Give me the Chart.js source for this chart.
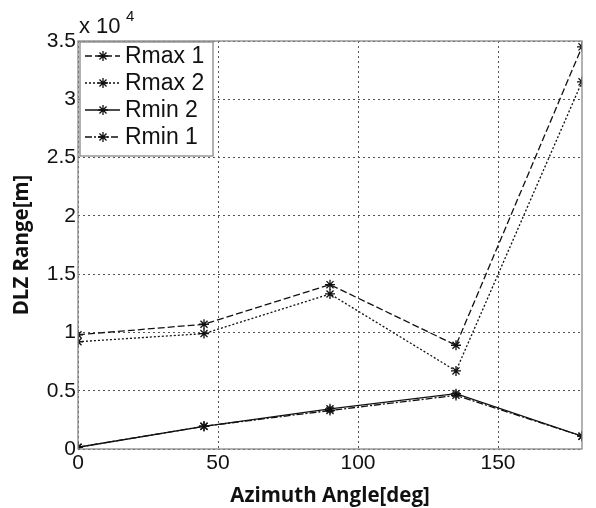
<!DOCTYPE html>
<html><head><meta charset="utf-8">
<script src="https://cdn.jsdelivr.net/npm/chart.js@4/dist/chart.umd.min.js"></script>
<style>html,body{margin:0;padding:0;background:#fff}#w{width:596px;height:508px}</style>
</head><body><div id="w"><canvas id="c" width="596" height="508"></canvas></div>
<script>
const angles = [0, 45, 90, 135, 180];
const rmax1 = [9800, 10700, 14100, 8900, 34500];
const rmax2 = [9200, 9900, 13300, 6700, 31500];
const rmin2 = [150, 1950, 3450, 4750, 1100];
const rmin1 = [150, 1950, 3300, 4600, 1100];
const seriesNames = ['Rmax 1', 'Rmax 2', 'Rmin 2', 'Rmin 1'];
const yTicks = [0, 5000, 10000, 15000, 20000, 25000, 30000, 35000];
const xTicks = [0, 50, 100, 150];

const dashes = [[7,3],[2,2],[],[7,2,2,2]];
const sets = [rmax1, rmax2, rmin2, rmin1].map((v,i)=>({
  label: seriesNames[i],
  data: angles.map((a,j)=>({x:a,y:v[j]})),
  borderColor:'#111', backgroundColor:'#111', borderWidth:1.3,
  borderDash:dashes[i], pointStyle:'star', pointRadius:5, pointBorderWidth:1.3,
  pointBorderColor:'#111', tension:0, fill:false
}));

const tickFont = {family:'"Liberation Sans", Arial, sans-serif', size:21};
const frame = {
  id:'frame',
  afterDraw(ch){
    const {ctx, chartArea:a} = ch;
    ctx.save();
    ctx.strokeStyle='#888'; ctx.lineWidth=1.3; ctx.setLineDash([]);
    ctx.strokeRect(a.left, a.top, a.right-a.left, a.bottom-a.top);
    // exponent
    ctx.fillStyle='#111'; ctx.font='22px "Liberation Sans", Arial, sans-serif';
    ctx.textBaseline='alphabetic'; ctx.textAlign='left';
    ctx.fillText('x 10', a.left+1, a.top-8);
    ctx.font='15px "Liberation Sans", Arial, sans-serif';
    ctx.fillText('4', a.left+48, a.top-20);
    // legend
    const lx=a.left+2, ly=a.top+1, lw=133, lh=114;
    ctx.fillStyle='#fff'; ctx.fillRect(lx,ly,lw,lh);
    ctx.strokeStyle='#888'; ctx.strokeRect(lx,ly,lw,lh);
    ch.data.datasets.forEach((d,i)=>{
      const y = ly+14+i*27;
      ctx.strokeStyle='#111'; ctx.lineWidth=1.3; ctx.setLineDash(d.borderDash);
      ctx.beginPath(); ctx.moveTo(lx+5,y); ctx.lineTo(lx+40,y); ctx.stroke();
      ctx.setLineDash([]);
      const cx=lx+23, r=5;
      ctx.beginPath();
      for(let k=0;k<4;k++){const ang=k*Math.PI/4; ctx.moveTo(cx+r*Math.cos(ang),y+r*Math.sin(ang)); ctx.lineTo(cx-r*Math.cos(ang),y-r*Math.sin(ang));}
      ctx.stroke();
      ctx.fillStyle='#111'; ctx.font='23px "Liberation Sans", Arial, sans-serif';
      ctx.textBaseline='middle'; ctx.textAlign='left';
      ctx.fillText(d.label, lx+45, y+1);
    });
    ctx.restore();
  }
};

new Chart(document.getElementById('c'), {
  type:'line',
  data:{datasets:sets},
  options:{
    responsive:false, animation:false, devicePixelRatio:1,
    layout:{padding:{top:41,right:14,left:0,bottom:0}},
    plugins:{legend:{display:false}, tooltip:{enabled:false}},
    scales:{
      x:{type:'linear', min:0, max:180,
        afterBuildTicks(s){ s.ticks = xTicks.map(v=>({value:v})); },
        afterFit(s){ s.height = 59; },
        grid:{color:'#555', lineWidth:1, drawTicks:false},
        border:{display:false, dash:[2,3]},
        ticks:{font:tickFont, color:'#111', padding:2, maxRotation:0},
        title:{display:true, text:'Azimuth Angle[deg]', color:'#111',
          font:{family:'"Open Sans", sans-serif', size:20.5, weight:'bold'}, padding:{top:0,bottom:0}}
      },
      y:{type:'linear', min:0, max:35000,
        afterBuildTicks(s){ s.ticks = yTicks.map(v=>({value:v})); },
        afterFit(s){ s.width = 78; },
        grid:{color:'#555', lineWidth:1, drawTicks:false},
        border:{display:false, dash:[2,3]},
        ticks:{font:tickFont, color:'#111', padding:2, callback:v=>String(v/10000)},
        title:{display:true, text:'DLZ Range[m]', color:'#111',
          font:{family:'"Open Sans", sans-serif', size:20.5, weight:'bold'}, padding:{top:10,bottom:0}}
      }
    }
  },
  plugins:[frame]
});
</script></body></html>
